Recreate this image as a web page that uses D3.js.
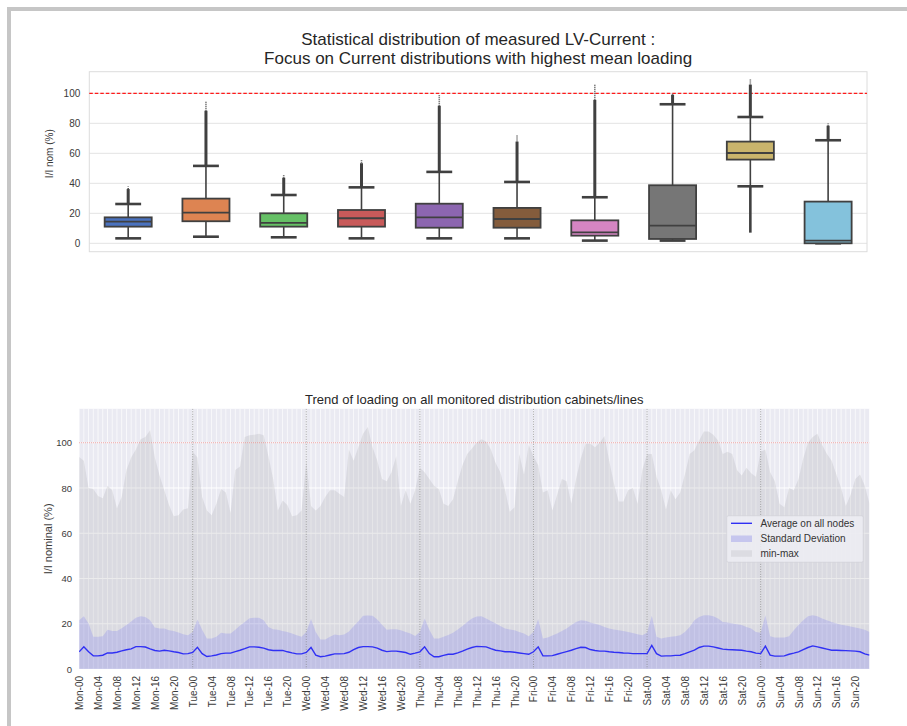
<!DOCTYPE html>
<html><head><meta charset="utf-8">
<script src="https://cdn.jsdelivr.net/npm/d3@7"></script>
<style>
body{margin:0;background:#fff}
svg{display:block}
text{font-family:"Liberation Sans",Arial,sans-serif}
</style>
</head><body>
<svg id="c" width="907" height="726"></svg>
<script>
// ---------- Top chart data (box plots) ----------
const categories = ["C1","C2","C3","C4","C5","C6","C7","C8","C9","C10"];
const boxColors = ["#4a72bf","#dd8452","#66c066","#c85a5a","#8c66b0","#845c3c","#d585c2","#767676","#c9b46c","#84c2dc"];
const q1Vals      = [11.1, 14.7, 11.1, 11.1, 10.4, 10.4, 5.1, 2.9, 55.8, 0.0];
const medianVals  = [14.4, 20.4, 13.6, 16.7, 17.3, 16.2, 7.3, 11.8, 60.2, 1.8];
const q3Vals      = [17.3, 29.8, 20.0, 22.2, 26.4, 23.6, 15.3, 38.7, 67.8, 27.8];
const whiskerLow  = [3.3, 4.4, 4.0, 3.3, 3.3, 3.3, 1.8, 1.8, 38.0, 0.0];
const whiskerHigh = [26.2, 51.6, 32.2, 37.3, 47.6, 40.9, 30.7, 92.7, 84.2, 68.7];
const outlierMax  = [37.8, 94.4, 45.6, 56.0, 98.9, 72.2, 106.2, 100.0, 109.3, 80.0];
const outlierMin  = [null, null, null, null, null, null, null, null, 7.1, null];
const topTicks = [0, 20, 40, 60, 80, 100];

// ---------- Bottom chart data (hourly, Mon-00 .. Sun-23) ----------
const days = ["Mon","Tue","Wed","Thu","Fri","Sat","Sun"];
const labelHours = ["00","04","08","12","16","20"];
const bottomTicks = [0, 20, 40, 60, 80, 100];
const avgLoad = [
 7.6, 9.8, 7.6, 5.8, 5.8, 6.1, 7.1, 7.1, 7.4, 8.0, 8.5, 8.9, 9.9, 9.9, 9.7, 8.9, 8.2, 7.9, 8.3, 8.0, 7.6, 7.3, 6.7, 6.8,
 7.3, 9.6, 6.8, 5.5, 5.8, 6.2, 6.8, 7.0, 7.0, 7.7, 8.3, 9.0, 9.8, 9.8, 9.6, 9.2, 8.5, 8.2, 8.2, 8.2, 7.6, 7.1, 6.7, 6.7,
 7.3, 9.5, 6.1, 5.4, 5.7, 6.2, 6.7, 6.7, 6.8, 7.4, 8.6, 9.5, 9.9, 9.9, 9.8, 9.2, 8.3, 7.7, 7.9, 7.9, 7.6, 7.3, 6.5, 7.0,
 7.6, 9.8, 6.8, 5.4, 5.4, 6.0, 6.5, 6.5, 7.1, 7.9, 8.8, 9.5, 10.0, 9.9, 9.8, 9.0, 8.3, 8.0, 7.6, 7.6, 7.4, 7.1, 6.8, 6.5,
 7.6, 9.8, 5.8, 5.8, 5.9, 6.5, 7.1, 7.7, 8.3, 9.0, 9.6, 9.5, 8.6, 8.2, 7.9, 7.9, 7.6, 7.4, 7.3, 7.1, 7.0, 6.8, 6.8, 6.8,
 6.8, 10.4, 6.8, 5.7, 5.8, 5.8, 6.0, 6.1, 6.8, 7.6, 8.3, 9.5, 10.1, 10.1, 9.8, 9.3, 8.8, 8.6, 8.5, 8.4, 8.3, 7.9, 7.6, 7.0,
 6.8, 10.1, 6.1, 5.7, 5.7, 5.8, 6.5, 7.0, 7.6, 8.6, 9.5, 10.2, 9.8, 9.3, 8.8, 8.3, 8.3, 8.2, 8.1, 8.0, 7.9, 7.6, 6.7, 6.1
];
const avgPlusStd = [
 21.6, 23.3, 20.1, 14.2, 14.2, 14.5, 17.4, 16.8, 16.8, 18.0, 19.4, 21.0, 22.7, 23.3, 23.0, 21.6, 18.3, 17.9, 17.9, 17.1, 16.8, 16.1, 15.4, 14.9,
 16.4, 21.9, 17.4, 13.5, 13.5, 14.2, 16.0, 15.7, 15.7, 17.4, 19.2, 20.8, 22.4, 22.7, 22.6, 21.6, 18.6, 17.6, 17.4, 16.8, 16.3, 15.7, 14.9, 14.2,
 16.4, 22.1, 16.4, 13.0, 13.0, 14.2, 15.2, 14.9, 15.2, 16.6, 18.9, 21.1, 23.5, 23.6, 23.5, 21.9, 19.6, 17.4, 17.6, 17.6, 17.1, 16.4, 15.7, 14.6,
 16.4, 22.3, 17.4, 13.5, 13.5, 14.2, 15.0, 16.0, 17.5, 19.0, 20.8, 22.3, 23.2, 23.3, 22.3, 21.2, 20.1, 19.0, 17.9, 17.5, 17.1, 16.4, 15.7, 14.5,
 16.4, 22.1, 13.5, 13.9, 14.8, 15.7, 16.8, 17.9, 19.4, 20.8, 21.6, 21.3, 20.5, 20.0, 19.4, 18.6, 17.9, 17.5, 17.1, 16.8, 16.4, 15.9, 15.4, 14.9,
 16.0, 23.5, 14.2, 13.5, 13.9, 14.2, 14.5, 14.9, 16.4, 18.6, 21.6, 23.0, 23.8, 23.8, 23.3, 22.3, 20.8, 20.5, 20.1, 19.8, 19.4, 18.6, 17.9, 16.4,
 16.0, 23.8, 14.5, 13.9, 13.9, 13.9, 14.5, 17.1, 19.4, 21.6, 23.3, 23.8, 23.3, 22.3, 21.6, 20.8, 20.1, 19.6, 19.2, 18.8, 18.3, 17.9, 17.4, 16.4
];
const maxLoad = [
 93.7, 92, 80, 79.5, 76.5, 75.5, 81, 79, 71, 76, 88, 93.5, 97, 101.5, 102.5, 105.5, 93.5, 85.5, 79, 72.5, 67.5, 68, 70.5, 71,
 96, 93.5, 76, 70, 68, 73, 79.5, 78, 69, 88, 89.5, 102.5, 103.3, 103.5, 104, 103.3, 94, 84, 70, 74.5, 72.5, 67.5, 68, 70,
 92, 72, 70, 72, 76, 79, 79, 77.5, 76, 97, 92, 98, 104, 107, 98, 92, 84, 83, 87, 94, 72, 79, 73, 79,
 89, 87, 84, 81, 79.5, 73, 72, 75, 83, 90, 95, 97.5, 100, 101.5, 100.5, 97, 91, 87, 79, 69.5, 71.5, 95, 86, 99,
 94, 90, 78, 79, 70, 77, 84, 83, 73, 84, 93, 99.5, 99.5, 98, 100, 103, 92, 82, 74, 74, 79, 80, 73, 88,
 95, 95, 85, 79, 70.5, 79, 75, 78, 86, 95, 96.7, 101, 105, 105, 103.5, 101, 95, 96, 95, 88, 85.5, 89, 86.5, 85,
 96, 97, 87, 83, 73, 71.5, 80, 79, 84, 93, 100, 102.5, 104, 99, 95, 92, 86, 80, 72, 77, 84, 86, 81, 73
];

const svg = d3.select("#c");
const FONT = "'Liberation Sans', Arial, sans-serif";

// page frame (left + top)
svg.append("rect").attr("x",7).attr("y",7).attr("width",900).attr("height",4).attr("fill","#c6c6c6");
svg.append("rect").attr("x",7).attr("y",7).attr("width",4).attr("height",719).attr("fill","#c6c6c6");

// ================= TOP CHART =================
const T = {l:89.3, r:867, t:71.7, b:251.7};
const x1 = d3.scaleBand().domain(categories).range([T.l, T.r]);
const y1 = d3.scaleLinear().domain([-5.6, 114.4]).range([T.b, T.t]);

const topG = svg.append("g");
topG.selectAll("line.grid").data(topTicks).join("line")
  .attr("x1",T.l).attr("x2",T.r).attr("y1",d=>y1(d)).attr("y2",d=>y1(d))
  .attr("stroke","#e3e3e3").attr("stroke-width",1);
topG.append("rect").attr("x",T.l).attr("y",T.t).attr("width",T.r-T.l).attr("height",T.b-T.t)
  .attr("fill","none").attr("stroke","#dcdcdc").attr("stroke-width",1);
const ya1 = d3.axisLeft(y1).tickValues(topTicks).tickSize(0).tickPadding(9);
const ya1g = topG.append("g").attr("transform",`translate(${T.l},0)`).call(ya1);
ya1g.select(".domain").remove();
ya1g.selectAll("text").attr("font-family",FONT).attr("font-size",10).attr("fill","#3a3a3a");
topG.append("text").attr("transform",`translate(53,${(T.t+T.b)/2 - 8}) rotate(-90)`)
  .attr("text-anchor","middle").attr("font-size",10).attr("fill","#3a3a3a").text("I/I nom (%)");

topG.append("line").attr("x1",T.l).attr("x2",T.r).attr("y1",y1(100)).attr("y2",y1(100))
  .attr("stroke","#ff1a1a").attr("stroke-width",1.3).attr("stroke-dasharray","3.5,2");

const STROKE = "#404040";
categories.forEach((c,i)=>{
  const cx = x1(c) + x1.bandwidth()/2;
  const bw = x1.bandwidth()*0.605;
  const cw = bw*0.55;
  const g = topG.append("g");
  const hiDense = whiskerHigh[i] + 0.86*(outlierMax[i]-whiskerHigh[i]);
  g.append("line").attr("x1",cx).attr("x2",cx).attr("y1",y1(whiskerHigh[i])).attr("y2",y1(hiDense))
    .attr("stroke",STROKE).attr("stroke-width",3);
  g.append("line").attr("x1",cx).attr("x2",cx).attr("y1",y1(hiDense)).attr("y2",y1(outlierMax[i]))
    .attr("stroke","#555").attr("stroke-width",1.6).attr("stroke-dasharray","1,1");
  if (outlierMin[i] !== null) {
    g.append("line").attr("x1",cx).attr("x2",cx).attr("y1",y1(whiskerLow[i])).attr("y2",y1(outlierMin[i]))
      .attr("stroke",STROKE).attr("stroke-width",2.6);
  }
  g.append("line").attr("x1",cx).attr("x2",cx).attr("y1",y1(q3Vals[i])).attr("y2",y1(whiskerHigh[i]))
    .attr("stroke",STROKE).attr("stroke-width",1.6);
  g.append("line").attr("x1",cx).attr("x2",cx).attr("y1",y1(q1Vals[i])).attr("y2",y1(whiskerLow[i]))
    .attr("stroke",STROKE).attr("stroke-width",1.6);
  [whiskerHigh[i], whiskerLow[i]].forEach(v=>{
    g.append("line").attr("x1",cx-cw/2).attr("x2",cx+cw/2).attr("y1",y1(v)).attr("y2",y1(v))
      .attr("stroke",STROKE).attr("stroke-width",2.6);
  });
  g.append("rect").attr("x",cx-bw/2).attr("width",bw)
    .attr("y",y1(q3Vals[i])).attr("height",y1(q1Vals[i])-y1(q3Vals[i]))
    .attr("fill",boxColors[i]).attr("stroke",STROKE).attr("stroke-width",1.8);
  g.append("line").attr("x1",cx-bw/2).attr("x2",cx+bw/2).attr("y1",y1(medianVals[i])).attr("y2",y1(medianVals[i]))
    .attr("stroke",STROKE).attr("stroke-width",1.8);
});

svg.append("text").attr("x",(T.l+T.r)/2).attr("y",44.5).attr("text-anchor","middle")
  .attr("font-size",17).attr("fill","#262626").text("Statistical distribution of measured LV-Current :");
svg.append("text").attr("x",(T.l+T.r)/2).attr("y",64).attr("text-anchor","middle")
  .attr("font-size",17).attr("fill","#262626").text("Focus on Current distributions with highest mean loading");

// ================= BOTTOM CHART =================
const B = {l:79.1, r:869.5, t:408.8, b:669};
const hours = d3.range(avgLoad.length);
const x2 = d3.scaleLinear().domain([0, avgLoad.length-1]).range([B.l, B.r]);
const y2 = d3.scaleLinear().domain([0, 115]).range([B.b, B.t]);
const bot = svg.append("g");

const clip = svg.append("defs").append("clipPath").attr("id","clipB");
clip.append("rect").attr("x",B.l).attr("y",B.t).attr("width",B.r-B.l).attr("height",B.b-B.t);

bot.append("rect").attr("x",B.l).attr("y",B.t).attr("width",B.r-B.l).attr("height",B.b-B.t).attr("fill","#eaeaf2");
bot.selectAll("line.vg").data(hours).join("line")
  .attr("x1",d=>x2(d)).attr("x2",d=>x2(d)).attr("y1",B.t).attr("y2",B.b)
  .attr("stroke","#ffffff").attr("stroke-width",0.8).attr("opacity",0.9);
bot.selectAll("line.hg").data(bottomTicks).join("line")
  .attr("x1",B.l).attr("x2",B.r).attr("y1",d=>y2(d)).attr("y2",d=>y2(d))
  .attr("stroke","#ffffff").attr("stroke-width",1);

const plot = bot.append("g").attr("clip-path","url(#clipB)");
plot.append("path").datum(hours)
  .attr("d", d3.area().x(d=>x2(d)).y0(y2(0)).y1(d=>y2(maxLoad[d])))
  .attr("fill","#9a9aa0").attr("opacity",0.2);
plot.append("path").datum(hours)
  .attr("d", d3.area().x(d=>x2(d)).y0(d=>y2(2*avgLoad[d]-avgPlusStd[d])).y1(d=>y2(avgPlusStd[d])))
  .attr("fill","#2020ff").attr("opacity",0.13);
plot.append("line").attr("x1",B.l).attr("x2",B.r).attr("y1",y2(100)).attr("y2",y2(100))
  .attr("stroke","#e06060").attr("stroke-width",1).attr("stroke-dasharray","1,1").attr("opacity",0.6);
plot.selectAll("line.day").data(days.slice(1).map((d,i)=>(i+1)*24)).join("line")
  .attr("x1",d=>x2(d)).attr("x2",d=>x2(d)).attr("y1",B.t).attr("y2",B.b)
  .attr("stroke","#555").attr("stroke-width",0.9).attr("stroke-dasharray","1,1.5").attr("opacity",0.6);
plot.append("path").datum(hours)
  .attr("d", d3.line().x(d=>x2(d)).y(d=>y2(avgLoad[d])))
  .attr("fill","none").attr("stroke","#3030f4").attr("stroke-width",1.4);

const ya2 = d3.axisLeft(y2).tickValues(bottomTicks).tickSize(0).tickPadding(7);
const ya2g = bot.append("g").attr("transform",`translate(${B.l},0)`).call(ya2);
ya2g.select(".domain").remove();
ya2g.selectAll("text").attr("font-family",FONT).attr("font-size",9.5).attr("fill","#3a3a3a");
bot.append("text").attr("transform",`translate(52,${(B.t+B.b)/2}) rotate(-90)`)
  .attr("text-anchor","middle").attr("font-size",11).attr("fill","#3a3a3a").text("I/I nominal (%)");

const tickHours = [], tickLabels = [];
days.forEach((d,di)=>labelHours.forEach(h=>{ tickHours.push(di*24 + (+h)); tickLabels.push(d + "-" + h); }));
const xa2 = d3.axisBottom(x2).tickValues(tickHours).tickFormat((d,i)=>tickLabels[i]).tickSize(0);
const xa2g = bot.append("g").attr("transform",`translate(0,${B.b})`).call(xa2);
xa2g.select(".domain").remove();
xa2g.selectAll("text").attr("font-family",FONT).attr("font-size",10).attr("fill","#3a3a3a")
  .attr("transform","rotate(-90)").attr("text-anchor","end").attr("x",-7).attr("y",0).attr("dy","0.35em");

svg.append("text").attr("x",(B.l+B.r)/2).attr("y",404).attr("text-anchor","middle")
  .attr("font-size",13).attr("fill","#262626").text("Trend of loading on all monitored distribution cabinets/lines");

const lg = bot.append("g");
lg.append("rect").attr("x",726.7).attr("y",515.7).attr("width",136.6).attr("height",46.6).attr("rx",2)
  .attr("fill","#eeeef4").attr("opacity",0.85).attr("stroke","#d2d2d8").attr("stroke-width",0.8);
lg.append("line").attr("x1",731).attr("x2",752).attr("y1",523.3).attr("y2",523.3).attr("stroke","#3030f4").attr("stroke-width",1.4);
lg.append("rect").attr("x",731).attr("y",535.5).attr("width",21).attr("height",6.5).attr("fill","#c6c6ee");
lg.append("rect").attr("x",731).attr("y",550.3).attr("width",21).attr("height",6.5).attr("fill","#dcdce2");
[["Average on all nodes",523.3],["Standard Deviation",538.5],["min-max",553.5]].forEach(([t,y])=>{
  lg.append("text").attr("x",760.5).attr("y",y).attr("dy","0.35em").attr("font-size",10).attr("fill","#333").text(t);
});
</script>
</body></html>
